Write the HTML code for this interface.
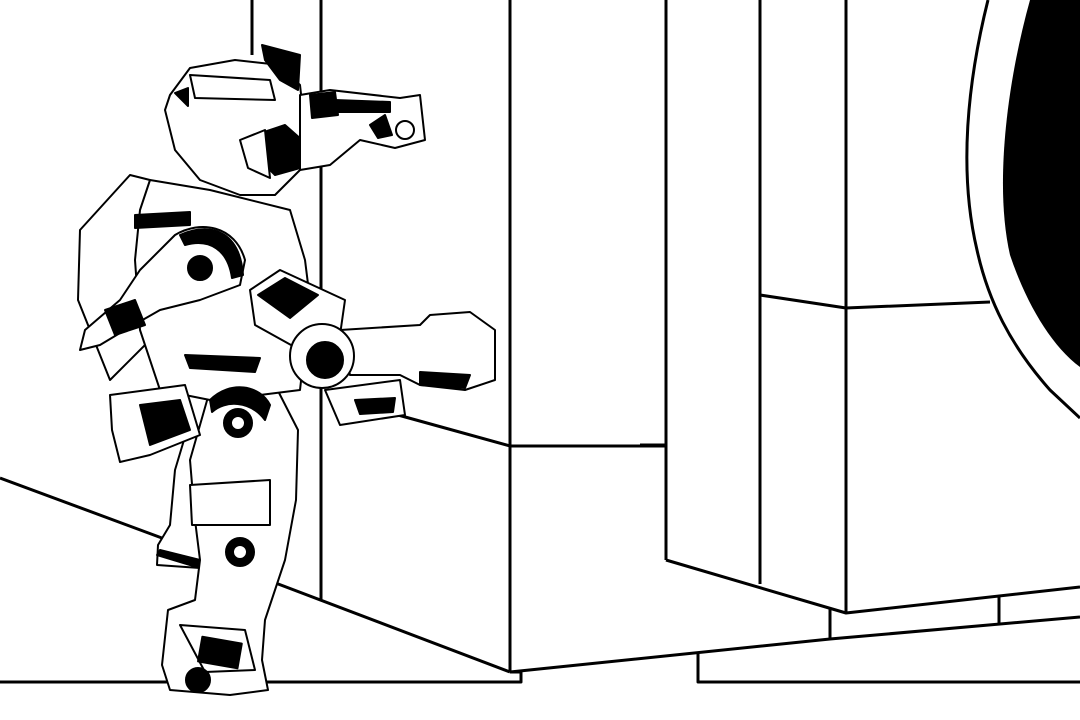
<!DOCTYPE html>
<html><head><meta charset="utf-8"><style>html,body{margin:0;padding:0;background:#fff;width:1080px;height:720px;overflow:hidden}</style></head>
<body>
<svg width="1080" height="720" viewBox="0 0 1080 720" xmlns="http://www.w3.org/2000/svg">
<g fill="none" stroke="#000" stroke-width="3" stroke-linejoin="round">
<!-- hole -->
<path d="M1030,0 C1005,90 995,190 1010,255 C1025,300 1050,345 1080,367 L1080,0 Z" fill="#000" stroke="none"/>
<path d="M988,0 C968,80 958,170 977,250 C988,300 1010,345 1050,390 L1080,418"/>
<!-- right blocks -->
<line x1="666" y1="0" x2="666" y2="560"/>
<line x1="640" y1="445" x2="666" y2="445"/>
<line x1="760" y1="0" x2="760" y2="584"/>
<line x1="846" y1="0" x2="846" y2="613"/>
<polyline points="760,295 846,308 990,302"/>
<polyline points="666,560 846,613 1080,587"/>
<line x1="830" y1="609" x2="830" y2="639"/>
<line x1="999" y1="597" x2="999" y2="625"/>
<polyline points="510,672 830,639 1080,617"/>
<polyline points="698,654 698,682 1080,682"/>
<!-- center/left -->
<line x1="510" y1="0" x2="510" y2="672"/>
<line x1="510" y1="446" x2="666" y2="446"/>
<line x1="398" y1="415" x2="510" y2="446"/>
<line x1="321" y1="0" x2="321" y2="600"/>
<line x1="252" y1="0" x2="252" y2="55"/>
<polyline points="0,478 170,541"/>
<polyline points="265,579 510,672"/>
<polyline points="0,682 521,682 521,672 510,672"/>
</g>
<!-- astronaut -->
<g stroke="#000" stroke-width="2" fill="#fff" stroke-linejoin="round">
<!-- backpack -->
<path d="M130,175 L80,230 L78,300 L92,335 L110,380 L160,330 L150,180 Z"/>
<!-- back leg -->
<path d="M190,420 L175,470 L170,525 L158,545 L157,565 L200,568 L205,520 L215,470 Z"/>
<path d="M157,555 L200,568 L200,560 L160,550 Z" fill="#000"/>
<!-- front leg -->
<path d="M210,390 L275,385 L298,430 L296,500 L285,560 L265,620 L262,660 L268,690 L230,695 L170,690 L162,665 L168,610 L195,600 L200,560 L195,520 L190,460 Z"/>
<path d="M180,625 L245,630 L255,670 L205,672 Z" fill="#fff"/>
<rect x="200" y="640" width="40" height="25" fill="#000" transform="rotate(10 220 652)"/>
<circle cx="198" cy="680" r="12" fill="#000"/>
<circle cx="240" cy="552" r="14" fill="#000"/>
<circle cx="240" cy="552" r="7" fill="#fff"/>
<path d="M190,485 L270,480 L270,525 L192,525 Z"/>
<!-- torso -->
<path d="M150,180 L210,190 L290,210 L305,260 L310,300 L300,390 L260,395 L210,400 L160,390 L140,330 L135,260 L140,210 Z"/>
<path d="M185,355 L260,358 L255,372 L190,368 Z" fill="#000"/>
<path d="M210,400 C230,380 260,385 270,405 L265,420 C250,400 225,400 212,412 Z" fill="#000"/>
<circle cx="238" cy="423" r="14" fill="#000"/>
<circle cx="238" cy="423" r="7" fill="#fff"/>
<path d="M135,215 L190,212 L190,225 L135,228 Z" fill="#000"/>
<!-- hip box -->
<path d="M110,395 L185,385 L200,435 L150,455 L120,462 L112,430 Z"/>
<path d="M140,405 L180,400 L190,430 L150,445 Z" fill="#000"/>
<!-- arm left with shoulder -->
<path d="M175,235 C200,220 235,225 245,260 L240,285 L200,300 L160,310 L125,330 L100,345 L80,350 L85,330 L120,300 L140,270 Z"/>
<path d="M180,235 C215,220 240,235 243,275 L232,278 C228,250 210,238 185,245 Z" fill="#000"/>
<circle cx="200" cy="268" r="12" fill="#000"/>
<path d="M105,310 L135,300 L145,325 L115,335 Z" fill="#000"/>
<!-- right lower arm -->
<path d="M340,330 L420,325 L430,315 L470,312 L495,330 L495,380 L465,390 L420,385 L400,375 L350,375 Z"/>
<path d="M420,372 L470,375 L465,388 L420,385 Z" fill="#000"/>
<path d="M250,290 L280,270 L345,300 L340,335 L300,350 L255,325 Z"/>
<path d="M258,295 L285,278 L318,295 L290,318 Z" fill="#000"/>
<circle cx="322" cy="356" r="32"/>
<circle cx="325" cy="360" r="18" fill="#000"/>
<path d="M325,390 L400,380 L405,415 L340,425 Z"/>
<path d="M355,400 L395,398 L393,412 L360,414 Z" fill="#000"/>
<!-- helmet -->
<path d="M170,95 L190,68 L235,60 L280,65 L300,85 L305,130 L300,170 L275,195 L240,195 L200,180 L175,150 L165,110 Z"/>
<path d="M262,45 L300,55 L298,90 L280,80 L265,60 Z" fill="#000"/>
<path d="M255,135 L285,125 L302,140 L300,168 L275,175 L265,165 Z" fill="#000"/>
<path d="M240,140 L265,130 L270,178 L248,168 Z"/>
<path d="M190,75 L270,80 L275,100 L195,98 Z"/>
<path d="M175,93 L188,88 L188,106 Z" fill="#000"/>
<!-- upper arm raised -->
<path d="M300,95 L330,90 L400,98 L420,95 L425,140 L395,148 L360,140 L330,165 L300,170 Z"/>
<path d="M310,95 L335,92 L338,115 L312,118 Z" fill="#000"/>
<path d="M335,100 L390,102 L390,112 L338,112 Z" fill="#000"/>
<path d="M370,125 L385,115 L392,135 L378,138 Z" fill="#000"/>
<circle cx="405" cy="130" r="9"/>
</g>
</svg>
</body></html>
